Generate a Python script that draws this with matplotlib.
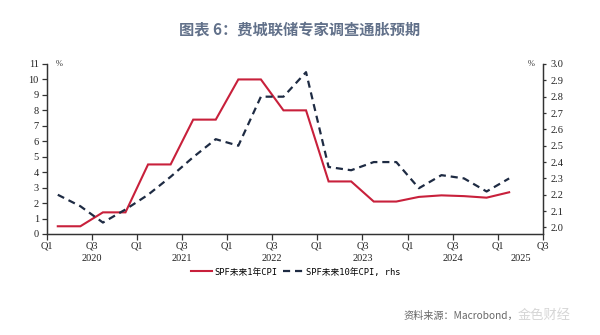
import numpy as np
import matplotlib
matplotlib.use("Agg")
import matplotlib.pyplot as plt
from matplotlib.transforms import blended_transform_factory

# SPF survey rounds, 2020Q1 .. 2025Q1
quarters = ["2020Q1", "2020Q2", "2020Q3", "2020Q4",
            "2021Q1", "2021Q2", "2021Q3", "2021Q4",
            "2022Q1", "2022Q2", "2022Q3", "2022Q4",
            "2023Q1", "2023Q2", "2023Q3", "2023Q4",
            "2024Q1", "2024Q2", "2024Q3", "2024Q4",
            "2025Q1"]
cpi_1y = [0.5, 0.5, 1.4, 1.4, 4.5, 4.5, 7.4, 7.4, 10.0, 10.0, 8.0, 8.0,
          3.4, 3.4, 2.1, 2.1, 2.4, 2.5, 2.45, 2.35, 2.7]
cpi_10y = [2.20, 2.13, 2.03, 2.11, 2.20, 2.31, 2.43, 2.54, 2.50, 2.80, 2.80, 2.95,
           2.37, 2.35, 2.40, 2.40, 2.24, 2.32, 2.30, 2.22, 2.30]
tick_labels = ["Q1", "Q3"] * 6
years = ["2020", "2021", "2022", "2023", "2024", "2025"]

title = "图表 6：费城联储专家调查通胀预期"
label_1y = "SPF未来1年CPI"
label_10y = "SPF未来10年CPI, rhs"
source = "资料来源：Macrobond，"

RED = "#c8203b"
NAVY = "#1e2b43"
SERIF = ["Liberation Serif", "DejaVu Serif"]

# quarter index: 0 = start of 2020Q1; survey points sit mid-quarter
x = np.arange(len(quarters)) + 0.5
x_end = 22  # start of 2025Q3

fig = plt.figure(figsize=(6.0, 3.35), dpi=100)
ax = fig.add_axes([0.0775, 0.3015, 0.8275, 0.5075])
ax2 = ax.twinx()

ax.plot(x, cpi_1y, color=RED, lw=1.5, solid_joinstyle="miter", zorder=3)
ax2.plot(x, cpi_10y, color=NAVY, lw=1.6, linestyle=(0, (3.2, 2.2)), zorder=3)

ax.set_xlim(0, x_end)
ax.set_ylim(0, 11)
ax2.set_ylim(1.96, 3.0)

ax.set_yticks(range(0, 12))
ax2.set_yticks(np.round(np.arange(2.0, 3.01, 0.1), 1))
ax2.set_yticklabels([f"{v:.1f}" for v in np.arange(2.0, 3.01, 0.1)])

ax.set_xticks(np.arange(0, x_end + 1, 2))
ax.set_xticklabels(tick_labels)

for a in (ax, ax2):
    a.spines["top"].set_visible(False)
    for s in a.spines.values():
        s.set_color("#333333")
        s.set_linewidth(0.9)
    a.set_facecolor("none")

ax.tick_params(axis="x", direction="out", length=4, width=0.9, color="#333333",
               pad=1.5, labelsize=7.5)
ax.tick_params(axis="y", direction="out", length=3.5, width=0.9, color="#333333",
               pad=2, labelsize=7.5)
ax2.tick_params(axis="y", direction="out", length=2.5, width=0.9, color="#333333",
                pad=3, labelsize=7.5)
for lbl in ax.get_xticklabels() + ax.get_yticklabels() + ax2.get_yticklabels():
    lbl.set_family(SERIF)
    lbl.set_color("#222222")

# year labels centred on the visible part of each year
trans = blended_transform_factory(ax.transData, ax.transAxes)
for i, yr in enumerate(years):
    start = 4 * i
    end = min(start + 4, x_end)
    ax.text((start + end) / 2, -0.145, yr, transform=trans, ha="center", va="center",
            fontsize=7.5, family=SERIF, color="#222222")

# unit markers
ax.text(0.018, 1.0, "%", transform=ax.transAxes, ha="left", va="center",
        fontsize=6, family=SERIF, color="#333333")
ax.text(0.983, 1.0, "%", transform=ax.transAxes, ha="right", va="center",
        fontsize=6, family=SERIF, color="#333333")

# legend below the plot
h1, = ax.plot([], [], color=RED, lw=1.5)
h2, = ax.plot([], [], color=NAVY, lw=1.6, linestyle=(0, (3.2, 2.2)))
leg = fig.legend([h1, h2], [label_1y, label_10y], loc="center",
                 bbox_to_anchor=(0.493, 0.188), ncol=2, frameon=False,
                 prop={"family": ["DejaVu Sans Mono", "Noto Sans CJK SC"], "size": 6.3},
                 handlelength=2.4, handletextpad=0.3, columnspacing=0.6)

fig.text(0.5, 0.913, title, ha="center", va="center", fontsize=11,
         fontweight="bold", color="#62718a", family=["Noto Sans CJK SC", "DejaVu Sans"])

fig.text(0.672, 0.057, source, ha="left", va="center", fontsize=7.3,
         color="#666666", family=["Noto Sans CJK SC", "DejaVu Sans"])
fig.text(0.862, 0.057, "金色财经", ha="left", va="center", fontsize=9.5,
         color="#d6d6d6", family=["Noto Sans CJK SC", "DejaVu Sans"])

fig.savefig("out.png", dpi=100)
